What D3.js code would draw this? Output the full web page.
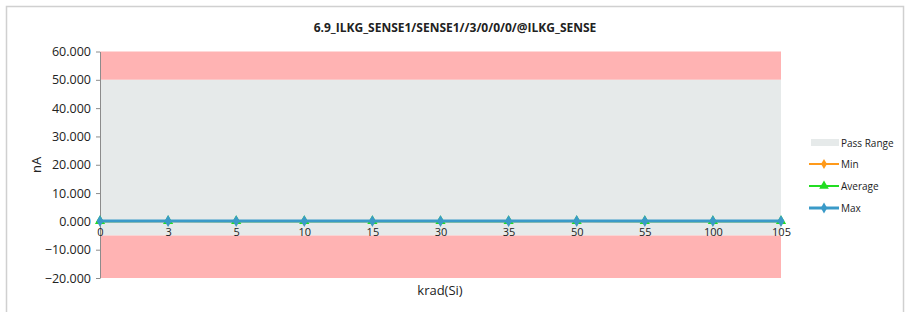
<!DOCTYPE html>
<html><head><meta charset="utf-8">
<script src="https://cdn.jsdelivr.net/npm/d3@7"></script>
<style>body{margin:0;background:#fff;font-family:"Open Sans","Liberation Sans",sans-serif;}</style>
</head><body>
<svg id="c" width="905" height="312"></svg>
<script>
const categories = ["0","3","5","10","15","30","35","50","55","100","105"];
const minValues = [0.05,0.06,0.05,0.05,0.05,0.05,0.05,0.06,0.05,0.05,0.05];
const avgValues = [0.08,0.09,0.08,0.08,0.08,0.08,0.08,0.09,0.08,0.08,0.08];
const maxValues = [0.12,0.13,0.12,0.12,0.12,0.12,0.12,0.13,0.12,0.12,0.12];
const yTicks = [-20,-10,0,10,20,30,40,50,60];
const passLow = -5, passHigh = 50;
const title = "6.9_ILKG_SENSE1/SENSE1//3/0/0/0/@ILKG_SENSE";

const svg = d3.select("#c");
// frame
svg.append("rect").attr("x",6.5).attr("y",6.5).attr("width",897).attr("height",320)
  .attr("fill","#fff").attr("stroke","#d0d0d0").attr("stroke-width",1.5);

const L=100, R=781, T=51.5, B=278;
const x = d3.scalePoint().domain(categories).range([L,R]);
const y = d3.scaleLinear().domain([-20,60]).range([B,T]);

// bands
svg.append("rect").attr("x",L).attr("width",R-L).attr("y",y(60)).attr("height",y(passHigh)-y(60)).attr("fill","#FFB3B3");
svg.append("rect").attr("x",L).attr("width",R-L).attr("y",y(passHigh)).attr("height",y(passLow)-y(passHigh)).attr("fill","#E6EAEA");
svg.append("rect").attr("x",L).attr("width",R-L).attr("y",y(passLow)).attr("height",y(-20)-y(passLow)).attr("fill","#FFB3B3");

// y axis
const ya = svg.append("g").attr("transform",`translate(${L},0)`)
  .call(d3.axisLeft(y).tickValues(yTicks).tickFormat(d3.format(".3f")).tickSize(4).tickSizeOuter(0));
ya.select(".domain").attr("stroke","#8c8c8c");
ya.selectAll(".tick line").attr("stroke","#8c8c8c");
ya.selectAll("text").attr("font-size",12.5).attr("fill","#222").attr("x",-9).attr("font-family","'Open Sans',sans-serif");

// x axis along 0
const xa = svg.append("g").attr("transform",`translate(0,${y(0)})`)
  .call(d3.axisBottom(x).tickSize(0).tickPadding(7));
xa.select(".domain").remove();
xa.selectAll("text").attr("font-size",11).attr("fill","#222").attr("font-family","'Open Sans',sans-serif");

// series
function series(vals,color,w,shape,size){
  const line = d3.line().x((d,i)=>x(categories[i])).y(d=>y(d));
  svg.append("path").datum(vals).attr("d",line).attr("fill","none").attr("stroke",color).attr("stroke-width",w);
  svg.append("g").selectAll("path").data(vals).join("path")
    .attr("transform",(d,i)=>`translate(${x(categories[i])},${y(d)})`)
    .attr("d",d3.symbol().type(shape).size(size)).attr("fill",color);
}
series(minValues,"#FF9A1A",2,d3.symbolDiamond,30);
series(avgValues,"#22DD22",2,d3.symbolTriangle,45);
series(maxValues,"#3A9AC8",3,d3.symbolDiamond,40);

// title
svg.append("text").attr("x",455).attr("y",32).attr("text-anchor","middle")
  .attr("font-size",12).attr("font-weight","bold").attr("fill","#222").text(title);
// axis titles
svg.append("text").attr("transform","translate(41,165) rotate(-90)").attr("text-anchor","middle")
  .attr("font-size",13).attr("fill","#222").text("nA");
svg.append("text").attr("x",440).attr("y",295).attr("text-anchor","middle")
  .attr("font-size",13).attr("fill","#222").text("krad(Si)");

// legend
const lg = svg.append("g").attr("font-size",10).attr("fill","#222");
lg.append("rect").attr("x",811).attr("y",139).attr("width",28).attr("height",7).attr("fill","#E6EAEA");
lg.append("text").attr("x",841).attr("y",146.5).text("Pass Range");
const items=[["Min","#FF9A1A",d3.symbolDiamond,30,2,164],["Average","#22DD22",d3.symbolTriangle,40,2,186],["Max","#3A9AC8",d3.symbolDiamond,35,3,208]];
items.forEach(([n,c,s,sz,w,yy])=>{
  lg.append("line").attr("x1",809).attr("x2",839).attr("y1",yy).attr("y2",yy).attr("stroke",c).attr("stroke-width",w);
  lg.append("path").attr("transform",`translate(824,${yy})`).attr("d",d3.symbol().type(s).size(sz)).attr("fill",c);
  lg.append("text").attr("x",841).attr("y",yy+4).text(n);
});
</script>
</body></html>
